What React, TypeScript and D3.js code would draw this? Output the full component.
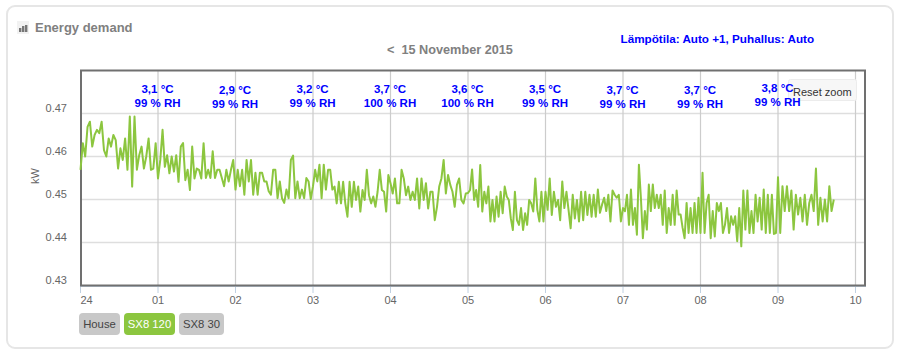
import React from "react";
import * as d3 from "d3";

const hour0 = [.4569,.4631,.4600,.4669,.4681,.4623,.4650,.4662,.4654,.4681,.4615,.4600,.4642,.4623,.4650,.4638,.4572,.4619,.4592,.4642,.4569,.4693,.4530,.4693,.4569,.4603,.4623,.4572,.4600,.4642,.4569,.4572,.4631];
const hour1 = [.4549,.4592,.4662,.4576,.4603,.4561,.4600,.4565,.4603,.4541,.4623,.4631,.4545,.4569,.4522,.4623,.4549,.4572,.4569,.4549,.4631,.4550,.4569,.4550,.4612,.4550,.4569,.4569,.4550,.4531,.4569,.4542,.4569,.4592];
const hour2 = [.4523,.4569,.4531,.4569,.4511,.4592,.4542,.4592,.4511,.4562,.4511,.4562,.4562,.4542,.4542,.4519,.4511,.4569,.4569,.4503,.4542,.4503,.4492,.4523,.4503,.4592,.4602,.4503,.4542,.4503,.4523,.4503,.4550,.4542,.4501];
const hour3 = [.4531,.4569,.4542,.4581,.4503,.4581,.4523,.4569,.4569,.4523,.4530,.4491,.4541,.4491,.4541,.4491,.4460,.4541,.4483,.4541,.4499,.4530,.4472,.4522,.4499,.4569,.4510,.4491,.4507,.4483,.4518,.4569,.4522,.4518,.4472,.4557];
const hour4 = [.4538,.4514,.4549,.4491,.4491,.4569,.4549,.4510,.4530,.4499,.4518,.4499,.4549,.4479,.4549,.4499,.4538,.4479,.4518,.4518,.4452,.4483,.4530,.4549,.4592,.4514,.4557,.4534,.4518,.4483,.4534,.4549,.4499,.4491,.4514];
const hour5 = [.4515,.4522,.4570,.4499,.4522,.4483,.4580,.4472,.4518,.4491,.4530,.4449,.4499,.4449,.4507,.4460,.4518,.4468,.4530,.4507,.4499,.4456,.4429,.4518,.4452,.4441,.4480,.4429,.4468,.4441,.4499,.4491,.4472,.4549,.4476,.4449,.4518,.4449];
const hour6 = [.4518,.4476,.4549,.4464,.4518,.4483,.4499,.4452,.4542,.4480,.4518,.4476,.4433,.4511,.4456,.4499,.4449,.4518,.4452,.4518,.4464,.4511,.4460,.4511,.4460,.4523,.4469,.4488,.4504,.4473,.4511,.4449,.4521,.4511,.4504,.4511,.4449];
const hour7 = [.4480,.4473,.4511,.4441,.4523,.4441,.4480,.4418,.4581,.4504,.4410,.4473,.4430,.4535,.4473,.4535,.4480,.4511,.4480,.4511,.4441,.4521,.4422,.4480,.4441,.4511,.4441,.4521,.4465,.4465,.4434,.4410,.4492,.4422,.4480,.4422,.4492,.4422,.4504];
const hour8 = [.4422,.4562,.4422,.4492,.4511,.4410,.4473,.4414,.4492,.4473,.4492,.4422,.4441,.4480,.4422,.4461,.4441,.4461,.4403,.4480,.4391,.4521,.4430,.4521,.4422,.4473,.4422,.4511,.4449,.4504,.4430,.4523,.4422,.4511,.4422,.4511,.4420,.4422];
const hour9 = [.4552,.4422,.4531,.4473,.4531,.4473,.4521,.4430,.4511,.4465,.4504,.4449,.4511,.4441,.4492,.4511,.4473,.4572,.4441,.4504,.4449,.4500,.4449,.4531,.4473,.4500];
const hours = [hour0, hour1, hour2, hour3, hour4, hour5, hour6, hour7, hour8, hour9];
const lastHourSpan = 0.72;

const xTickLabels = ["24", "01", "02", "03", "04", "05", "06", "07", "08", "09", "10"];
const yTicks = [0.43, 0.44, 0.45, 0.46, 0.47];
const temps = ["3,1 °C", "2,9 °C", "3,2 °C", "3,7 °C", "3,6 °C", "3,5 °C", "3,7 °C", "3,7 °C", "3,8 °C"];
const humidity = ["99 % RH", "99 % RH", "99 % RH", "100 % RH", "100 % RH", "99 % RH", "99 % RH", "99 % RH", "99 % RH"];
const tempHours = [1, 2, 3, 4, 5, 6, 7, 8, 9];
const tempDy = [0, 1, 0, 0, 0, 0, 1, 1, -1];
const buttons = ["House", "SX8 120", "SX8 30"];

const FONT = "'Liberation Sans', Arial, sans-serif";
const GREEN = "#8cc63f";

export default function App() {
  const x = d3.scaleLinear().domain([0, 10]).range([80.5, 855.5]);
  const y = d3.scaleLinear().domain([0.43, 0.48]).range([285.5, 70.5]);
  const points: [number, number][] = hours.flatMap((vals, h) =>
    vals.map((v, i): [number, number] => {
      const span = h === hours.length - 1 ? lastHourSpan : 1;
      const denom = h === hours.length - 1 ? vals.length - 1 : vals.length;
      return [h + (i / denom) * span, v];
    })
  );
  const line = d3.line<[number, number]>().x((d) => x(d[0])).y((d) => y(d[1]));
  const btnGeom = [
    { x: 79, w: 41 },
    { x: 124, w: 51 },
    { x: 179, w: 45 },
  ];
  return (
    <svg width={900} height={357} style={{ position: "absolute", left: 0, top: 0, fontFamily: FONT }}>
      <rect x={7} y={6} width={886} height={342} rx={8} fill="#fff" stroke="#e6e6e6" strokeWidth={2} />
      <rect x={17} y={21} width={12} height={13} fill="#f2f2f2" />
      {[[19, 28], [22, 26], [25, 25]].map(([bx, by], i) => (
        <rect key={i} x={bx} y={by} width={2.4} height={32 - by} fill="#777" />
      ))}
      <text x={35} y={32} fontSize={13} fontWeight="bold" fill="#808080">Energy demand</text>
      <text x={387} y={54} fontSize={12.7} fontWeight="bold" fill="#808080" xmlSpace="preserve">{"<  15 November 2015"}</text>
      <text x={620.5} y={43} fontSize={11.7} fontWeight="bold" fill="#0000ff">Lämpötila: Auto +1, Puhallus: Auto</text>

      {yTicks.slice(1).map((t) => (
        <line key={t} x1={81} x2={865} y1={y(t)} y2={y(t)} stroke="#dedede" strokeWidth={1.6} />
      ))}
      {xTickLabels.map((_, i) => (
        <g key={i}>
          {i > 0 && <line x1={x(i)} x2={x(i)} y1={70.5} y2={285} stroke="#cccccc" strokeWidth={1.2} />}
          <line x1={x(i)} x2={x(i)} y1={285} y2={293} stroke="#c0d0e0" strokeWidth={1} />
        </g>
      ))}
      <line x1={81} x2={866} y1={286.5} y2={286.5} stroke="#c0d0e0" strokeWidth={1} />
      <rect x={81} y={70.5} width={784} height={215} fill="none" stroke="#707070" strokeWidth={2} />

      <path d={line(points) ?? ""} fill="none" stroke={GREEN} strokeWidth={2} strokeLinejoin="round" />

      <rect x={788.5} y={79.5} width={68} height={21} rx={2} fill="#f7f7f7" stroke="#ececec" />
      {tempHours.map((h, i) => (
        <g key={h} fontSize={11.5} fontWeight="bold" fill="#0000ff" textAnchor="middle">
          <text x={x(h) - 0.5} y={93 + tempDy[i]}>{temps[i]}</text>
          <text x={x(h) - 0.5} y={107 + tempDy[i]}>{humidity[i]}</text>
        </g>
      ))}
      <text x={793} y={96} fontSize={11} fill="#333">Reset zoom</text>

      {yTicks.map((t) => (
        <text key={t} x={67} y={y(t) - 1.5} fontSize={11} fill="#666" textAnchor="end">{t.toFixed(2)}</text>
      ))}
      <text transform="translate(39,176) rotate(-90)" fontSize={11} fill="#666" textAnchor="middle">kW</text>
      {xTickLabels.map((l, i) => (
        <text key={l} x={i === 0 ? 86.5 : x(i)} y={304} fontSize={11} fill="#666" textAnchor="middle">{l}</text>
      ))}

      {buttons.map((b, i) => (
        <g key={b}>
          <rect x={btnGeom[i].x} y={313} width={btnGeom[i].w} height={22} rx={4} fill={i === 1 ? GREEN : "#c8c8c8"} />
          <text x={btnGeom[i].x + btnGeom[i].w / 2} y={328} fontSize={11.3} fill={i === 1 ? "#fff" : "#444"} textAnchor="middle">{b}</text>
        </g>
      ))}
    </svg>
  );
}
